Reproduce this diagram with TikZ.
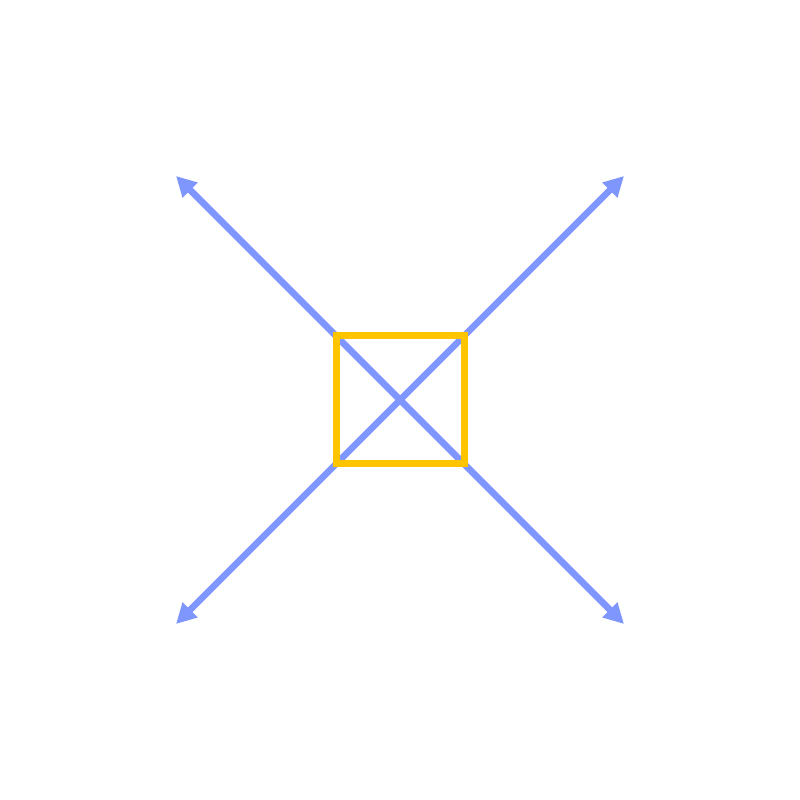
\documentclass[tikz,border=0pt]{standalone}
\usetikzlibrary{arrows.meta}
\definecolor{axblue}{RGB}{128,150,255}
\definecolor{boxyel}{RGB}{255,196,0}
\begin{document}
\begin{tikzpicture}[
    ax/.style={line width=0.067cm, axblue, {Triangle[length=0.2cm, width=0.2cm]}-{Triangle[length=0.2cm, width=0.2cm]}},
    sq/.style={draw=boxyel, line width=0.07cm, minimum size=1.28cm, inner sep=0pt}
]
    \useasboundingbox (0,0) rectangle (8,8);
    \coordinate (nw) at (1.76,6.24);
    \coordinate (ne) at (6.24,6.24);
    \coordinate (sw) at (1.76,1.76);
    \coordinate (se) at (6.24,1.76);
    \draw[ax] (nw) -- (se);
    \draw[ax] (sw) -- (ne);

    \node[sq] (box) at (4,4) {};
\end{tikzpicture}
\end{document}
